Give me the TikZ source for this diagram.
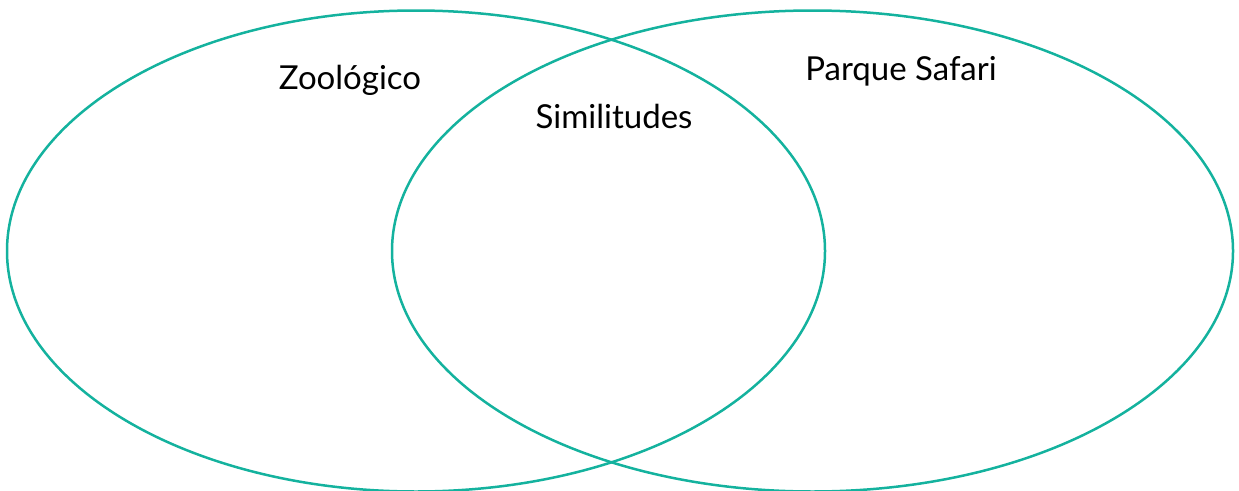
\documentclass[tikz,border=0pt]{standalone}
\usepackage{fontspec}
\setmainfont{Lato}
\definecolor{vennteal}{RGB}{20,178,158}
\tikzset{venn/.style={draw=vennteal,line width=2.5pt},lbl/.style={font=\fontsize{33}{38}\selectfont,text=black,inner sep=0pt}}
\begin{document}
\begin{tikzpicture}[x=1pt,y=-1pt]
\useasboundingbox (0,0) rectangle (1239,490);
\begin{scope}
\clip (0,0) rectangle (1239,490);
\coordinate (lc) at (416,251);
\coordinate (rc) at (812.5,251);
\draw[venn] (lc) ellipse [x radius=409, y radius=240.5];
\draw[venn] (rc) ellipse [x radius=420.5, y radius=240.5];
\end{scope}
\node[lbl] (zoo) at (350,80) {Zoológico};
\node[lbl] (sim) at (614,116) {Similitudes};
\node[lbl] (saf) at (901,71) {Parque Safari};
\end{tikzpicture}
\end{document}
